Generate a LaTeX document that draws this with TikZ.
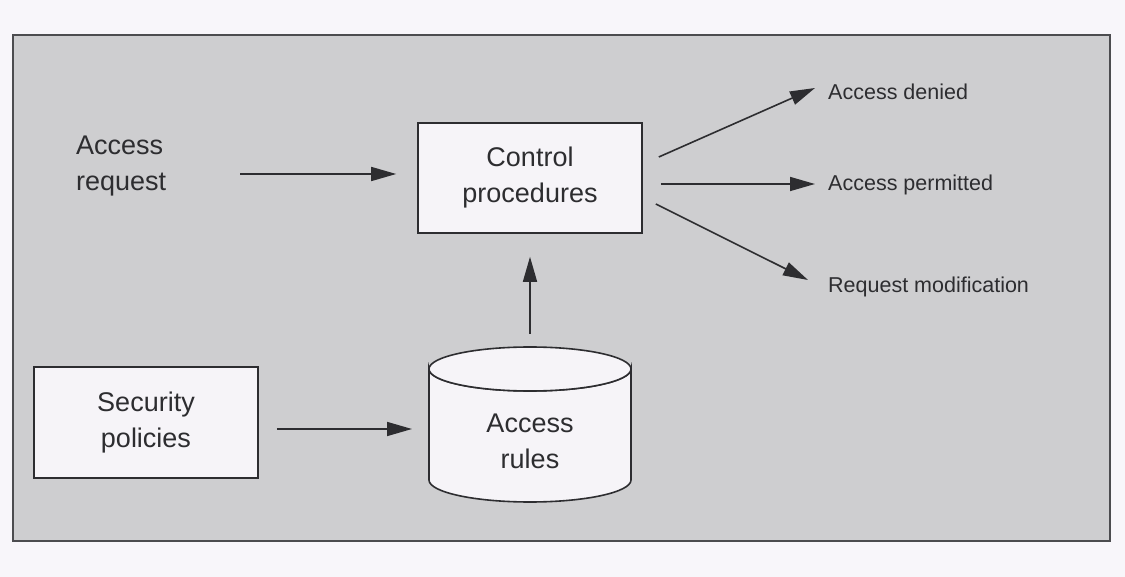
\documentclass[tikz,border=0pt]{standalone}
\usepackage{fontspec}
\setmainfont{Liberation Sans}
\usetikzlibrary{arrows.meta}
\definecolor{paper}{RGB}{248,246,250}
\definecolor{panel}{RGB}{206,206,208}
\definecolor{ink}{RGB}{45,45,48}
\definecolor{boxfill}{RGB}{246,244,248}
\tikzset{
  bigtext/.style={font=\fontsize{27}{36}\selectfont, text=ink, inner sep=0pt},
  smalltext/.style={font=\fontsize{21.5}{26}\selectfont, text=ink, inner sep=0pt, anchor=west},
  procbox/.style={draw=ink, line width=1.6pt, fill=boxfill, minimum width=224pt,
    minimum height=110pt, align=center, font=\fontsize{27}{36}\selectfont, text=ink, inner sep=0pt},
  cylbody/.style={draw=ink, line width=1.6pt, fill=boxfill},
  arr/.style={draw=ink, line width=1.6pt, -{Triangle[length=25pt,width=14pt]}},
  panelframe/.style={draw=ink!85, line width=1.6pt, fill=panel},
}
\begin{document}
\begin{tikzpicture}[x=1pt,y=-1pt]
  \useasboundingbox[fill=paper] (0,0) rectangle (1125,577);
  \draw[panelframe] (13,35) rectangle (1110,541);

  % nodes
  \node[bigtext, align=left, anchor=west] (req) at (76,166) {Access\\request};
  \node[procbox] (ctrl) at (530,178) {Control\\procedures};
  \node[procbox, minimum height=111pt] (sec) at (146,422.5) {Security\\policies};

  % cylinder
  \draw[cylbody] (429,369) -- (429,480) arc[start angle=180, end angle=0, x radius=101, y radius=22]
     -- (631,369) arc[start angle=0, end angle=180, x radius=101, y radius=22] -- cycle;
  \draw[cylbody] (530,369) ellipse[x radius=101, y radius=22];
  \coordinate (cyltop) at (530,347);
  \coordinate (cylleft) at (429,429);
  \node[bigtext, align=center] (rules) at (530,441) {Access\\rules};

  % outputs
  \node[smalltext] (den) at (828,92) {Access denied};
  \node[smalltext] (perm) at (828,185) {Access permitted};
  \node[smalltext] (mod) at (828,287) {Request modification};

  % connectors
  \draw[arr] ([xshift=74pt,yshift=-8pt]req.east) -- ([xshift=-21pt,yshift=4pt]ctrl.west);
  \draw[arr] ([xshift=16pt,yshift=21pt]ctrl.east) -- ([xshift=-13pt,yshift=4pt]den.west);
  \draw[arr] ([xshift=18pt,yshift=-6pt]ctrl.east) -- ([xshift=-13pt,yshift=1pt]perm.west);
  \draw[arr] ([xshift=13pt,yshift=-26pt]ctrl.east) -- ([xshift=-20pt,yshift=7pt]mod.west);
  \draw[arr] ([yshift=13pt]cyltop) -- ([yshift=-23pt]ctrl.south);
  \draw[arr] ([xshift=18pt,yshift=-6.5pt]sec.east) -- ([xshift=-17pt]cylleft);
\end{tikzpicture}
\end{document}
